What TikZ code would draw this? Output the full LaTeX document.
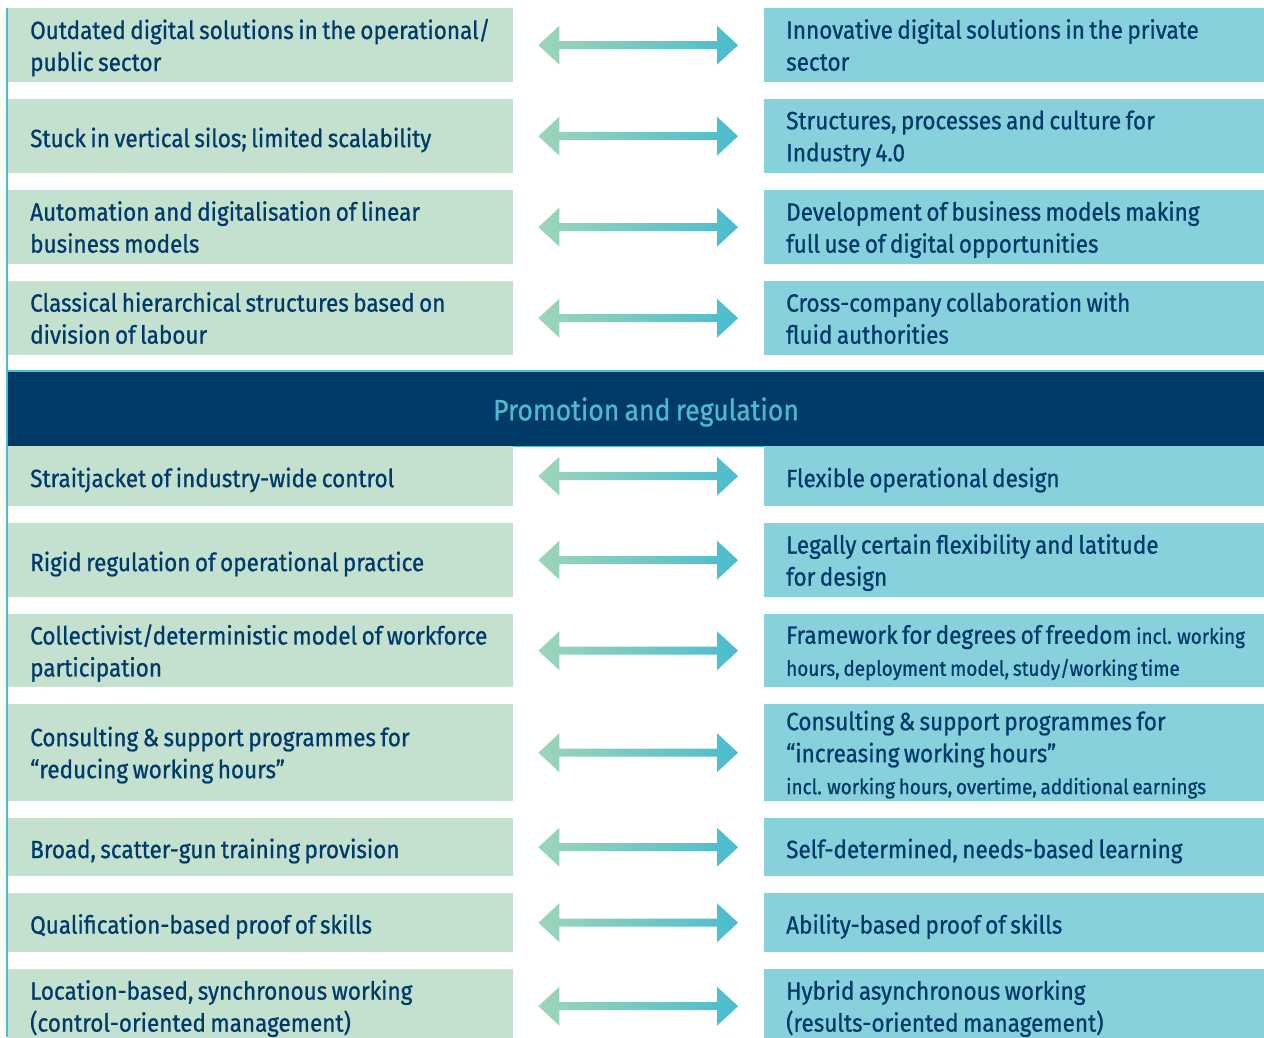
\documentclass[tikz,border=0pt]{standalone}
\usepackage{fontspec}
\setmainfont{Fira Sans}[FakeStretch=0.9, WordSpace=0.75, FakeBold=0.8]
\usetikzlibrary{calc}

\definecolor{leftfill}{HTML}{C4E1D0}
\definecolor{rightfill}{HTML}{87D1DC}
\definecolor{navy}{HTML}{003A69}
\definecolor{bandtext}{HTML}{4DB9CC}
\definecolor{edgecyan}{HTML}{4DBED0}
\definecolor{mint}{HTML}{9DD5B9}
\definecolor{teal}{HTML}{4ABCCE}

\newcommand\bodysize{\fontsize{25}{32}\selectfont}
\newcommand\smalltxt{\fontsize{21}{32}\selectfont}

\tikzset{
  x=1pt, y=-1pt,
  cellbox/.style={anchor=north west, inner sep=0pt},
  lbox/.style={cellbox, fill=leftfill, minimum width=505pt},
  rbox/.style={cellbox, fill=rightfill, minimum width=500pt},
  celltext/.style={anchor=west, inner sep=0pt, align=left, text=navy,
    font=\bodysize, execute at begin node=\strut, execute at end node=\strut},
  bandedge/.style={edgecyan, line width=1.5pt},
}

% one row: left box, right box, their texts and the shaded double arrow
\newcommand\pairrow[5]{%
  \node[lbox, minimum height=#3] (l#1) at (8,#2) {};
  \node[rbox, minimum height=#3] (r#1) at (764,#2) {};
  \node[celltext] (lt#1) at ($(l#1.west)+(22,4.5)$) {#4};
  \node[celltext] (rt#1) at ($(r#1.west)+(22,4.5)$) {#5};
  \shade[left color=mint, right color=teal]
    ($(l#1.east)+(25,0)$) -- ++(21,19.5) -- ++(0,-15.5)
    -- ($(r#1.west)+(-47,4)$) -- ++(0,15.5)
    -- ($(r#1.west)+(-26,0)$) -- ++(-21,-19.5) -- ++(0,15.5)
    -- ($(l#1.east)+(46,-4)$) -- ++(0,-15.5) -- cycle;
}

\begin{document}
\begin{tikzpicture}
\clip (0,0) rectangle (1264,1037);
\fill[white] (0,0) rectangle (1264,1037);

\pairrow{1}{8}{74}{Outdated digital solutions in the operational/\\public sector}
  {Innovative digital solutions in the private\\sector}
\pairrow{2}{99}{74}{Stuck in vertical silos; limited scalability}
  {Structures, processes and culture for\\Industry 4.0}
\pairrow{3}{190}{74}{Automation and digitalisation of linear\\business models}
  {Development of business models making\\full use of digital opportunities}
\pairrow{4}{281}{74}{Classical hierarchical structures based on\\division of labour}
  {Cross-company collaboration with\\fluid authorities}

% band across both columns
\node[anchor=north west, fill=navy, minimum width=1256pt, minimum height=75pt,
  inner sep=0pt] (band) at (8,371) {};
\draw[bandedge] (band.north west) -- (band.north east);
\draw[bandedge] (band.south west) -- (band.south east);
\node[text=bandtext, inner sep=0pt, font=\fontsize{29.5}{32}\selectfont]
  (bandlabel) at (646,412) {Promotion and regulation};

\pairrow{5}{446}{60}{Straitjacket of industry-wide control}
  {Flexible operational design}
\pairrow{6}{523}{74}{Rigid regulation of operational practice}
  {Legally certain flexibility and latitude\\for design}
\pairrow{7}{614}{73}{Collectivist/deterministic model of workforce\\participation}
  {Framework for degrees of freedom {\smalltxt incl. working}\\{\smalltxt hours, deployment model, study/working time}}
\pairrow{8}{704}{97}{Consulting \& support programmes for\\“reducing working hours”}
  {Consulting \& support programmes for\\“increasing working hours”\\{\smalltxt incl. working hours, overtime, additional earnings}}
\pairrow{9}{818}{58}{Broad, scatter-gun training provision}
  {Self-determined, needs-based learning}
\pairrow{10}{893}{59}{Qualification-based proof of skills}
  {Ability-based proof of skills}
\pairrow{11}{969}{74}{Location-based, synchronous working\\(control-oriented management)}
  {Hybrid asynchronous working\\(results-oriented management)}

% thin rule down the left edge
\draw[edgecyan, line width=2pt] ($(l1.north west)+(-1,0)$) -- (7,1037);
\end{tikzpicture}
\end{document}
